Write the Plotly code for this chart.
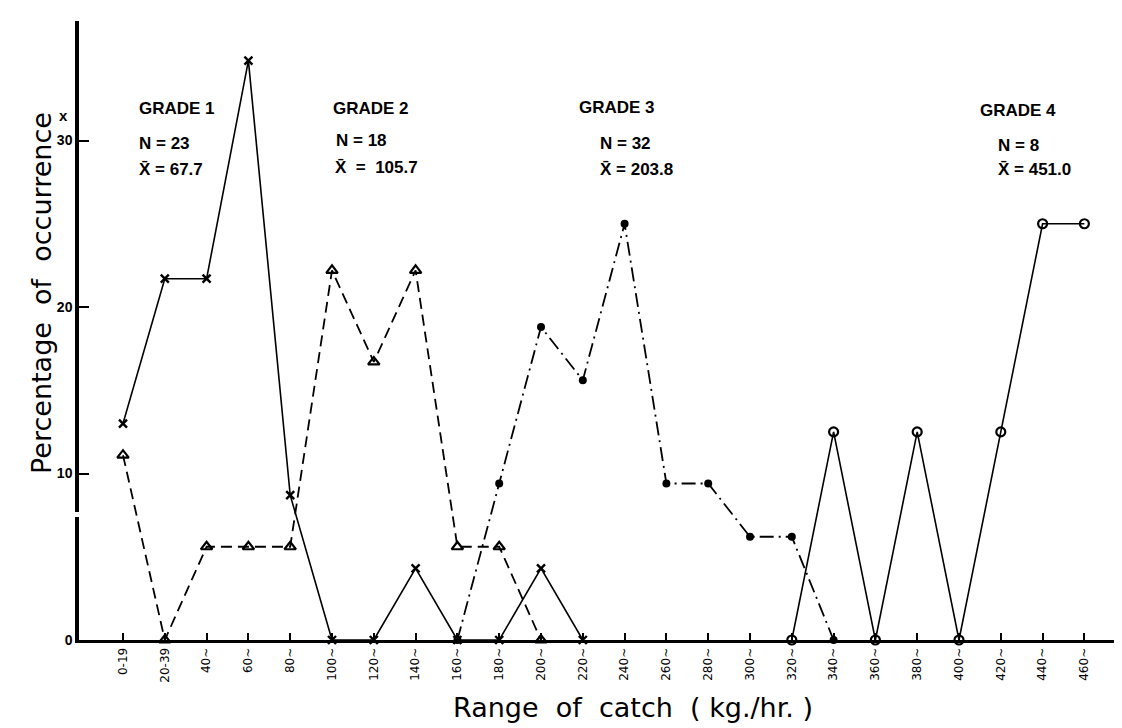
import plotly.graph_objects as go

# ---------------- data ----------------
categories = ["0-19", "20-39", "40~", "60~", "80~", "100~", "120~", "140~", "160~",
              "180~", "200~", "220~", "240~", "260~", "280~", "300~", "320~", "340~",
              "360~", "380~", "400~", "420~", "440~", "460~"]

grade1 = [13.0, 21.7, 21.7, 34.8, 8.7, 0, 0, 4.3, 0, 0, 4.3, 0] + [None] * 12
grade2 = [11.1, 0, 5.6, 5.6, 5.6, 22.2, 16.7, 22.2, 5.6, 5.6, 0] + [None] * 13
grade3 = [None] * 8 + [0, 9.4, 18.8, 15.6, 25.0, 9.4, 9.4, 6.2, 6.2, 0] + [None] * 6
grade4 = [None] * 16 + [0, 12.5, 0, 12.5, 0, 12.5, 25.0, 25.0]

y_ticks = [0, 10, 20, 30]
y_tick_labels = ["0", "10", "20", "30"]

grade_labels = [
    ("GRADE 1", "N = 23", "X\u0304 = 67.7"),
    ("GRADE 2", "N = 18", "X\u0304  =  105.7"),
    ("GRADE 3", "N = 32", "X\u0304 = 203.8"),
    ("GRADE 4", "N = 8", "X\u0304 = 451.0"),
]

# ---------------- layout geometry (pixels) ----------------
W, H = 1122, 728
L, R, T, B = 71, 0, 13, 96
PW, PH = W - L - R, H - T - B


def px_x(px):
    return (px - L) / PW


def px_y(py):
    return (H - B - py) / PH


fig = go.Figure()

fig.add_trace(go.Scatter(
    x=categories, y=grade1, mode="lines+markers", name="Grade 1",
    line=dict(color="black", width=1.6),
    marker=dict(symbol="x-thin", size=8, color="black", line=dict(width=2.4, color="black")),
    cliponaxis=False))
fig.add_trace(go.Scatter(
    x=categories, y=grade2, mode="lines+markers", name="Grade 2",
    line=dict(color="black", width=1.8, dash="11px,6px"),
    marker=dict(symbol="triangle-up-open", size=10, color="black", line=dict(width=2.2, color="black")),
    cliponaxis=False))
fig.add_trace(go.Scatter(
    x=categories, y=grade3, mode="lines+markers", name="Grade 3",
    line=dict(color="black", width=1.8, dash="14px,5px,2px,5px"),
    marker=dict(symbol="circle", size=8, color="black"),
    cliponaxis=False))
fig.add_trace(go.Scatter(
    x=categories, y=grade4, mode="lines+markers", name="Grade 4",
    line=dict(color="black", width=1.6),
    marker=dict(symbol="circle-open", size=9, color="black", line=dict(width=2.2, color="black")),
    cliponaxis=False))

# category i sits at 115 + 41.8*i px
k = 41.8
r0 = -(115 - L) / k
r1 = r0 + PW / k

annotations = []
pos = [
    [(129, 100), (129, 135), (129, 162)],
    [(323, 100), (326, 132), (325, 159)],
    [(569, 99), (590, 135), (590, 161)],
    [(970, 103), (988, 137), (988, 162)],
]
for (g, n, m), p in zip(grade_labels, pos):
    for txt, (x, y) in zip((g, n, m), p):
        annotations.append(dict(
            text=txt, x=px_x(x), y=px_y(y), xref="paper", yref="paper",
            xanchor="left", yanchor="middle", showarrow=False,
            font=dict(family="Liberation Sans", size=17, color="black", weight="bold")))

# axis titles
annotations.append(dict(
    text="Range  of  catch  ( kg./hr. )", x=px_x(625), y=px_y(700),
    xref="paper", yref="paper", showarrow=False, xanchor="center", yanchor="middle",
    font=dict(family="DejaVu Sans", size=27, color="black")))
annotations.append(dict(
    text="Percentage  of  occurrence", x=px_x(33), y=px_y(285),
    xref="paper", yref="paper", showarrow=False, textangle=-90,
    xanchor="center", yanchor="middle",
    font=dict(family="DejaVu Sans", size=27, color="black")))
# percent marker
annotations.append(dict(
    text="x", x=px_x(55), y=px_y(108), xref="paper", yref="paper", showarrow=False,
    xanchor="center", yanchor="middle",
    font=dict(family="Liberation Sans", size=15, color="black", weight="bold")))

fig.update_layout(
    width=W, height=H,
    margin=dict(l=L, r=R, t=T, b=B),
    paper_bgcolor="white", plot_bgcolor="white",
    showlegend=False,
    annotations=annotations,
    shapes=[dict(type="rect", xref="paper", yref="paper",
                 x0=px_x(66), x1=px_x(76), y0=px_y(509), y1=px_y(504),
                 fillcolor="white", line=dict(width=0), layer="above")],
)

fig.update_xaxes(
    type="category", range=[r0, r1], showgrid=False, zeroline=False,
    showline=True, linecolor="black", linewidth=3,
    ticks="inside", ticklen=7, tickwidth=2, tickcolor="black",
    tickangle=-90, tickfont=dict(family="DejaVu Sans", size=12, color="black"),
)
fig.update_yaxes(
    range=[0, (H - B - T) / 16.65], showgrid=False, zeroline=False,
    showline=True, linecolor="black", linewidth=3.5,
    tickmode="array", tickvals=y_ticks, ticktext=y_tick_labels,
    ticks="inside", ticklen=10, tickwidth=2, tickcolor="black",
    tickfont=dict(family="Liberation Sans", size=14, color="black", weight="bold"),
)

fig.write_html("out.html")
